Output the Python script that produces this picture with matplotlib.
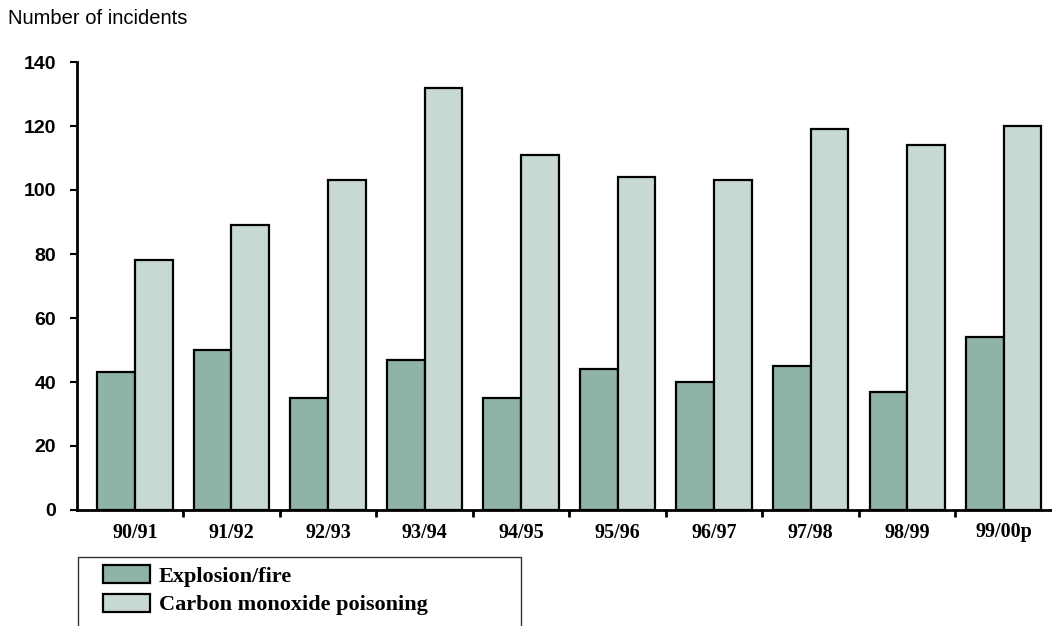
import matplotlib
matplotlib.use('Agg')
import matplotlib.pyplot as plt
from matplotlib.patches import Rectangle
import numpy as np

SEASONS = ['90/91', '91/92', '92/93', '93/94', '94/95', '95/96', '96/97', '97/98', '98/99', '99/00p']
EXPLOSION = [43, 50, 35, 47, 35, 44, 40, 45, 37, 54]
CO_POISON = [78, 89, 103, 132, 111, 104, 103, 119, 114, 120]
YTICKS = [0, 20, 40, 60, 80, 100, 120, 140]
LABELS = ['Explosion/fire', 'Carbon monoxide poisoning']
COLS = ['#8fb3a8', '#c8d8d2']

W, H = 1052, 626
fig = plt.figure(figsize=(W / 100, H / 100), dpi=100)
ax = fig.add_axes([77 / W, 1 - 510 / H, (W - 77) / W, 448 / H])

x = np.arange(len(SEASONS))
bw = 0.39
b1 = ax.bar(x - bw / 2, EXPLOSION, bw, color=COLS[0], edgecolor='black', lw=1.6, label=LABELS[0])
b2 = ax.bar(x + bw / 2, CO_POISON, bw, color=COLS[1], edgecolor='black', lw=1.6, label=LABELS[1])

ax.set_xlim(-0.6, 9.5)
ax.set_ylim(0, 140)
for s in ('top', 'right'):
    ax.spines[s].set_visible(False)
ax.spines['left'].set_linewidth(2)
ax.spines['bottom'].set_linewidth(2)

ax.set_yticks(YTICKS)
ax.set_yticklabels([str(v) for v in YTICKS], fontsize=14, fontweight='bold', family='Liberation Sans')
ax.tick_params(axis='y', direction='out', length=5, width=1.5, pad=10)

# boundary ticks between seasons, labels centred on each group
ax.set_xticks(np.arange(len(SEASONS) - 1) + 0.5)
ax.set_xticklabels([])
ax.tick_params(axis='x', which='major', direction='out', length=5, width=2)
ax.set_xticks(x, minor=True)
ax.set_xticklabels(SEASONS, minor=True, fontsize=14.5, fontweight='bold', family='Liberation Serif')
ax.tick_params(axis='x', which='minor', length=0, pad=9)

fig.text(8 / W, 1 - 18 / H, 'Number of incidents', fontsize=14.5, family='Liberation Sans', va='center', ha='left')

# legend box open at the bottom (cut by the page edge)
fig.add_artist(Rectangle((78 / W, -0.1), (521 - 78) / W, (1 - 557 / H) + 0.1, transform=fig.transFigure,
                         fill=False, edgecolor='#333333', lw=1, clip_on=False))
fig.legend(handles=[b1, b2], labels=LABELS, loc='upper left', bbox_to_anchor=(103 / W, 1 - 565 / H),
           frameon=False, borderpad=0, borderaxespad=0, handlelength=2.1, handleheight=0.87,
           handletextpad=0.4, labelspacing=0.32,
           prop={'family': 'Liberation Serif', 'weight': 'bold', 'size': 16})

fig.savefig('out.png', dpi=100)
